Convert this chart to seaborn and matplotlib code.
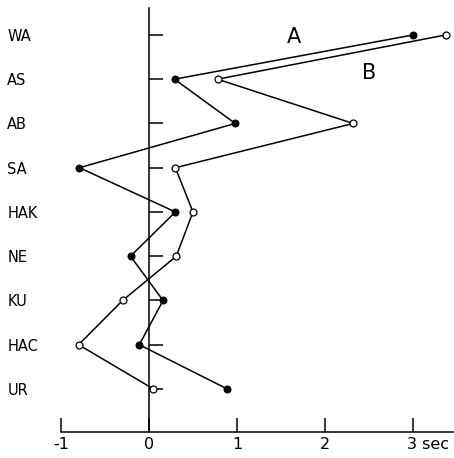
import matplotlib
matplotlib.use('Agg')
import matplotlib.pyplot as plt
import matplotlib.transforms as mtransforms
import numpy as np
import pandas as pd
import seaborn as sns

# reaction-time differences per item, two conditions
items = ['WA', 'AS', 'AB', 'SA', 'HAK', 'NE', 'KU', 'HAC', 'UR']
series_a = [3.00, 0.29, 0.98, -0.79, 0.30, -0.21, 0.16, -0.11, 0.89]
series_b = [3.37, 0.78, 2.32, 0.30, 0.50, 0.31, -0.30, -0.80, 0.05]
x_ticks = [-1, 0, 1, 2, 3]
x_tick_labels = ['-1', '0', '1', '2', '3 sec']

sns.set_style('white')
plt.rcParams['font.family'] = ['DejaVu Sans']
plt.rcParams['text.color'] = 'black'
plt.rcParams['xtick.color'] = 'black'
plt.rcParams['ytick.color'] = 'black'

fig = plt.figure(figsize=(4.54, 4.58), dpi=100)
ax = fig.add_axes([0, 0, 1, 1])

pos = np.arange(len(items))
df = pd.DataFrame({'value': series_a + series_b,
                   'pos': list(pos) + list(pos),
                   'series': ['A'] * len(items) + ['B'] * len(items)})

sns.lineplot(data=df[df.series == 'A'], x='value', y='pos', sort=False,
             color='black', lw=1.1, marker='o', markersize=5,
             markerfacecolor='black', markeredgecolor='black', ax=ax)
sns.lineplot(data=df[df.series == 'B'], x='value', y='pos', sort=False,
             color='black', lw=1.1, marker='o', markersize=5,
             markerfacecolor='white', markeredgecolor='black', markeredgewidth=0.9, ax=ax)

ax.set_xlim(-1.693, 3.466)
ax.set_ylim(9.56, -0.79)

for s in ['top', 'right']:
    ax.spines[s].set_visible(False)
ax.spines['left'].set_position(('data', 0))
ax.spines['left'].set_bounds(8.98, -0.61)
ax.spines['bottom'].set_position(('data', 8.97))
ax.spines['bottom'].set_bounds(-1, 3.45)
for s in ['left', 'bottom']:
    ax.spines[s].set_color('black')
    ax.spines[s].set_linewidth(1.1)

ax.set_xticks(x_ticks, labels=x_tick_labels)
ax.set_yticks(pos, labels=items)
ax.tick_params(axis='x', direction='in', length=10, width=1.1, pad=4,
               labelsize=11.5, labelcolor='black', bottom=True)
ax.tick_params(axis='y', direction='in', length=10, width=1.1, pad=102,
               labelsize=10.5, labelcolor='black', left=True)
for lbl in ax.get_yticklabels():
    lbl.set_ha('left')
last = ax.get_xticklabels()[-1]
last.set_ha('left')
last.set_transform(last.get_transform() +
                   mtransforms.ScaledTranslation(-4 / 72, 0, fig.dpi_scale_trans))

ax.set_xlabel('')
ax.set_ylabel('')

ax.text(1.65, 0.05, 'A', fontsize=15, ha='center', va='center', color='black')
ax.text(2.5, 0.85, 'B', fontsize=15, ha='center', va='center', color='black')

fig.savefig('out.png', dpi=100)
